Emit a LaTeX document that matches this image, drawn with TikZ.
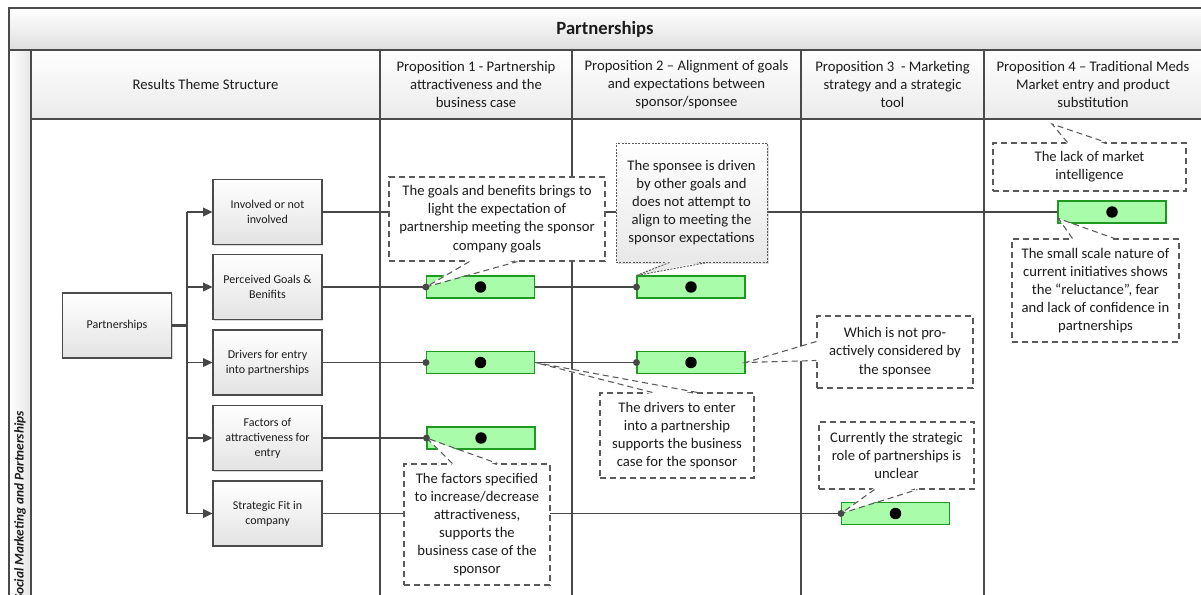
\documentclass[tikz,border=0pt]{standalone}
\usepackage{fontspec}
\setmainfont{Carlito}
\usetikzlibrary{calc,arrows.meta,shadows}
\definecolor{frame}{HTML}{4A4A4A}
\definecolor{linegray}{HTML}{474747}
\definecolor{barfill}{HTML}{A9FCA9}
\definecolor{barline}{HTML}{1F991F}
\definecolor{txt}{HTML}{1C1C1C}
\definecolor{dashgray}{HTML}{5A5A5A}

\begin{document}
\begin{tikzpicture}[x=0.75pt,y=-0.75pt,
  font=\fontsize{11}{13.6}\selectfont, text=txt,
  frameline/.style={draw=frame, line width=1.9pt},
  rowline/.style={draw=linegray, line width=1pt},
  topic/.style={draw=frame, line width=0.8pt, top color=white, bottom color=gray!22,
    minimum width=81.75pt, minimum height=48.75pt, align=center, inner sep=0pt,
    font=\fontsize{9}{11.2}\selectfont,
    drop shadow={shadow xshift=1pt, shadow yshift=-1pt, opacity=0.3, fill=gray}},
  bar/.style={draw=barline, line width=0.8pt, fill=barfill,
    minimum width=81pt, minimum height=16.5pt, inner sep=0pt},
  noteline/.style={draw=dashgray, line width=0.8pt, dash pattern=on 4.5pt off 3pt},
  note/.style={noteline, fill=white, align=center, inner sep=0pt},
  dotline/.style={draw=dashgray, line width=0.7pt, dash pattern=on 1.5pt off 1pt},
  notedot/.style={dotline, top color=white, bottom color=gray!18, align=center, inner sep=0pt,
    drop shadow={shadow xshift=1.5pt, shadow yshift=-1.5pt, opacity=0.25, fill=gray}},
  head/.style={align=center, inner sep=0pt}
]
\useasboundingbox (0,0) rectangle (1201,594);
\clip (0,0) rectangle (1201,594);
\fill[white] (0,0) rectangle (1201,594);

% ---- frame: title band, header row, side strip, columns
\path[top color=white, bottom color=gray!25] (9,8) rectangle (1215,50);
\path[top color=white, bottom color=gray!16] (31,50) rectangle (1215,119);
\path[left color=white, right color=gray!20] (9,50) rectangle (31,610);
\draw[frameline] (1215,8) -- (9,8) -- (9,610);
\draw[frameline] (9,50) -- (1215,50);
\draw[frameline] (31,50) -- (31,610);
\draw[frameline] (31,119) -- (1215,119);
\foreach \cx in {380,572,801,984} \draw[frameline] (\cx,50) -- (\cx,610);

\node[font=\bfseries\fontsize{14}{16}\selectfont] (title) at (605,29) {Partnerships};
\node[rotate=90, font=\bfseries\itshape\fontsize{10}{12}\selectfont] (side) at (20,506)
  {Social Marketing and Partnerships};

\node[head] (h0) at (205.5,84.5) {Results Theme Structure};
\node[head] (h1) at (476,84.5) {Proposition 1 - Partnership\\attractiveness and the\\business case};
\node[head] (h2) at (686.5,84.5) {Proposition 2 – Alignment of goals\\and expectations between\\sponsor/sponsee};
\node[head] (h3) at (892.5,84.5) {Proposition 3 \ - Marketing\\strategy and a strategic\\tool};
\node[head] (h4) at (1093,84.5) {Proposition 4 – Traditional Meds\\Market entry and product\\substitution};

% ---- theme structure
\node[topic] (pp) at (117,325.5) {Partnerships};
\node[topic] (b1) at (267.5,212) {Involved or not\\involved};
\node[topic] (b2) at (267.5,287) {Perceived Goals \&\\Benifits};
\node[topic] (b3) at (267.5,362.5) {Drivers for entry\\into partnerships};
\node[topic] (b4) at (267.5,438) {Factors of\\attractiveness for\\entry};
\node[topic] (b5) at (267.5,513.5) {Strategic Fit in\\company};

\coordinate (bus) at (187,0);
\draw[draw=linegray, line width=1.7pt] (pp.east) -- (bus |- pp.east);
\draw[rowline] (bus |- b1.west) -- (bus |- b5.west);
\foreach \b in {b1,b2,b3,b4,b5}
  \draw[rowline, -{Triangle[length=7pt,width=6.5pt]}] (bus |- \b.west) -- (\b.west);

% ---- findings per proposition
\node[bar] (g1) at (480.5,287) {};
\node[bar] (g2) at (691,287) {};
\node[bar] (g3) at (480.5,362.5) {};
\node[bar] (g4) at (691,362.5) {};
\node[bar] (g5) at (481,438) {};
\node[bar] (g6) at (895.5,513.5) {};
\node[bar] (g7) at (1112,212) {};
\foreach \g in {g1,g2,g3,g4,g5,g6,g7}
  \fill[black] (\g.center) circle (4.3pt);

\draw[rowline] (b1.east) -- (g7.west);
\draw[rowline] (b2.east) -- (g1.west);
\draw[rowline] (g1.east) -- (g2.west);
\draw[rowline] (b3.east) -- (g3.west);
\draw[rowline] (g3.east) -- (g4.west);
\draw[rowline] (b4.east) -- (g5.west);
\draw[rowline] (b5.east) -- (g6.west);

% ---- comments
\node[note, minimum width=162pt, minimum height=63pt] (c1) at (497,219)
  {The goals and benefits brings to\\light the expectation of\\partnership meeting the sponsor\\company goals};
\coordinate (c1a) at ($(c1.south west)+(81,0)$);
\coordinate (c1b) at ($(c1.south west)+(129,0)$);
\fill[white] ($(c1a)+(0,-2)$) -- (g1.west) -- ($(c1b)+(0,-2)$) -- cycle;
\draw[noteline] (c1a) -- (g1.west) -- (c1b);

\node[notedot, minimum width=113.25pt, minimum height=89.25pt] (c2) at (691.5,202.5)
  {The sponsee is driven\\by other goals and\\does not attempt to\\align to meeting the\\sponsor expectations};
\coordinate (c2a) at ($(c2.south west)+(54,0)$);
\coordinate (c2b) at ($(c2.south west)+(92,0)$);
\fill[gray!17] ($(c2a)+(0,-2)$) -- (g2.north west) -- ($(c2b)+(0,-2)$) -- cycle;
\draw[dotline] (c2a) -- (g2.north west) -- (c2b);

\node[note, minimum width=115.5pt, minimum height=63.75pt] (c3) at (677,435.5)
  {The drivers to enter\\into a partnership\\supports the business\\case for the sponsor};
\coordinate (c3a) at ($(c3.north west)+(53,0)$);
\coordinate (c3b) at ($(c3.north west)+(98,0)$);
\fill[white] ($(c3a)+(0,2)$) -- (g3.east) -- ($(c3b)+(0,2)$) -- cycle;
\draw[noteline] (c3a) -- (g3.east) -- (c3b);

\node[note, minimum width=109.5pt, minimum height=90.75pt] (c4) at (477,524.5)
  {The factors specified\\to increase/decrease\\attractiveness,\\supports the\\business case of the\\sponsor};
\coordinate (c4a) at ($(c4.north west)+(49,0)$);
\coordinate (c4b) at ($(c4.north west)+(94,0)$);
\fill[white] ($(c4a)+(0,2)$) -- (g5.west) -- ($(c4b)+(0,2)$) -- cycle;
\draw[noteline] (c4a) -- (g5.west) -- (c4b);

\node[note, minimum width=117pt, minimum height=54pt] (c5) at (895,352)
  {Which is not pro-\\actively considered by\\the sponsee};
\coordinate (c5a) at ($(c5.north west)+(0,26)$);
\coordinate (c5b) at ($(c5.north west)+(0,45)$);
\fill[white] ($(c5a)+(2,0)$) -- (g4.east) -- ($(c5b)+(2,0)$) -- cycle;
\draw[noteline] (c5a) -- (g4.east) -- (c5b);

\node[note, minimum width=116.25pt, minimum height=50.25pt] (c6) at (896.5,455.5)
  {Currently the strategic\\role of partnerships is\\unclear};
\coordinate (c6a) at ($(c6.south west)+(56,0)$);
\coordinate (c6b) at ($(c6.south west)+(99,0)$);
\fill[white] ($(c6a)+(0,-2)$) -- (g6.west) -- ($(c6b)+(0,-2)$) -- cycle;
\draw[noteline] (c6a) -- (g6.west) -- (c6b);

\node[note, minimum width=144.75pt, minimum height=36pt] (c7) at (1089.5,167)
  {The lack of market\\intelligence};
\coordinate (c7t) at (1052,124);
\coordinate (c7a) at ($(c7.north west)+(75,0)$);
\coordinate (c7b) at ($(c7.north west)+(114,0)$);
\fill[white] ($(c7a)+(0,2)$) -- (c7t) -- ($(c7b)+(0,2)$) -- cycle;
\draw[noteline] (c7a) -- (c7t) -- (c7b);

\node[note, minimum width=125.25pt, minimum height=77.25pt] (c8) at (1095.5,290.5)
  {The small scale nature of\\current initiatives shows\\the “reluctance”, fear\\and lack of confidence in\\partnerships};
\coordinate (c8t) at ($(g7.south west)+(1,-5)$);
\coordinate (c8a) at ($(c8.north west)+(61,0)$);
\coordinate (c8b) at ($(c8.north west)+(103,0)$);
\fill[white] ($(c8a)+(0,2)$) -- (c8t) -- ($(c8b)+(0,2)$) -- cycle;
\draw[noteline] (c8a) -- (c8t) -- (c8b);

% ---- junction dots where the rows meet the findings
\foreach \p in {g1.west,g2.west,g3.west,g4.west,g5.west,g6.west}
  \fill[linegray] (\p) circle (2.6pt);
\end{tikzpicture}
\end{document}
